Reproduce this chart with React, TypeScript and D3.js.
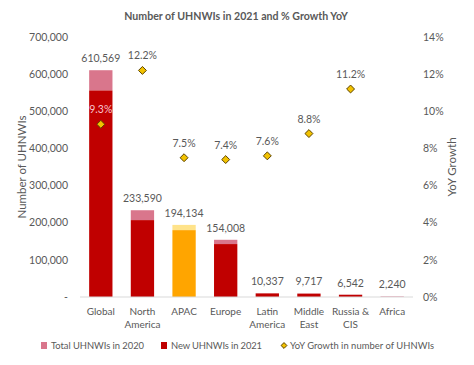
import React from "react";
import * as d3 from "d3";

const regions = ["Global", "North America", "APAC", "Europe", "Latin America", "Middle East", "Russia & CIS", "Africa"];
const regionLines = [["Global"], ["North", "America"], ["APAC"], ["Europe"], ["Latin", "America"], ["Middle", "East"], ["Russia &", "CIS"], ["Africa"]];
// lower (dark) part of each bar and the full 2021 total
const newUhnwis = [556000, 207000, 180000, 142500, 9600, 8900, 5900, 2240];
const totals = [610569, 233590, 194134, 154008, 10337, 9717, 6542, 2240];
const growth = [9.3, 12.2, 7.5, 7.4, 7.6, 8.8, 11.2, null];
const leftTicks = [0, 100000, 200000, 300000, 400000, 500000, 600000, 700000];
const rightTicks = [0, 2, 4, 6, 8, 10, 12, 14];

const bottomColors = ["#c00000", "#c00000", "#ffa500", "#c00000", "#c00000", "#c00000", "#c00000", "#e9a3b2"];
const topColors = ["#d9768c", "#d9768c", "#ffe38a", "#d9768c", "#d9768c", "#d9768c", "#d9768c", "#e9a3b2"];

export default function App() {
  const width = 474, height = 365;
  const margin = { top: 37, right: 61, bottom: 68, left: 80 };
  const x = d3.scaleBand().domain(regions).range([margin.left, width - margin.right]).paddingInner(0.44).paddingOuter(0.22);
  const y = d3.scaleLinear().domain([0, 700000]).range([height - margin.bottom, margin.top]);
  const y2 = d3.scaleLinear().domain([0, 14]).range([height - margin.bottom, margin.top]);
  const fmt = d3.format(",");
  const font = "Lato, 'Open Sans', sans-serif";
  const grey = "#595959";
  const cx = (r) => x(r) + x.bandwidth() / 2;
  const diamond = d3.symbol().type(d3.symbolDiamond2).size(40)();

  return (
    <svg width={width} height={height} style={{ position: "absolute", left: 0, top: 0 }} fontFamily={font}>
      <rect width={width} height={height} fill="white" />
      <text x={236} y={20} textAnchor="middle" fontSize={10.6} fontWeight="bold" fill={grey}>
        Number of UHNWIs in 2021 and % Growth YoY
      </text>

      {leftTicks.map((t) => (
        <text key={t} x={68} y={y(t)} dy="0.35em" textAnchor="end" fontSize={10.5} fill={grey}>
          {t === 0 ? "-" : fmt(t)}
        </text>
      ))}
      {rightTicks.map((t) => (
        <text key={t} x={423} y={y2(t)} dy="0.35em" textAnchor="start" fontSize={10.5} fill={grey}>
          {t + "%"}
        </text>
      ))}
      <text transform={`translate(26,${(margin.top + height - margin.bottom) / 2}) rotate(-90)`} textAnchor="middle" fontSize={11.5} fill={grey}>
        Number of UHNWIs
      </text>
      <text transform={`translate(456,${(margin.top + height - margin.bottom) / 2}) rotate(-90)`} textAnchor="middle" fontSize={11.5} fill={grey}>
        YoY Growth
      </text>

      {regions.map((r, i) => (
        <g key={r}>
          <rect x={x(r)} y={y(totals[i])} width={x.bandwidth()} height={y(newUhnwis[i]) - y(totals[i])} fill={topColors[i]} />
          <rect x={x(r)} y={y(newUhnwis[i])} width={x.bandwidth()} height={y(0) - y(newUhnwis[i])} fill={bottomColors[i]} />
          <text x={cx(r)} y={y(totals[i]) - 8} textAnchor="middle" fontSize={10.5} fill={grey}>
            {fmt(totals[i])}
          </text>
        </g>
      ))}
      <line x1={margin.left} x2={width - margin.right} y1={y(0)} y2={y(0)} stroke="#d9d9d9" strokeWidth={1} />

      {regions.map((r, i) =>
        growth[i] == null ? null : (
          <g key={"g" + r}>
            <path d={diamond} transform={`translate(${cx(r)},${y2(growth[i])})`} fill="#f2c200" stroke="#5c4300" strokeWidth={1} />
            <text x={cx(r)} y={y2(growth[i]) - 11} textAnchor="middle" fontSize={10.5} fill={i === 0 ? "#f7c6d0" : grey}>
              {growth[i].toFixed(1) + "%"}
            </text>
          </g>
        )
      )}

      {regions.map((r, i) => (
        <text key={"l" + r} x={cx(r)} y={315} textAnchor="middle" fontSize={10} fill={grey}>
          {regionLines[i].map((line, j) => (
            <tspan key={j} x={cx(r)} dy={j === 0 ? 0 : 12.5}>{line}</tspan>
          ))}
        </text>
      ))}

      <g fontSize={9.4} fill={grey}>
        <rect x={41} y={342} width={6} height={7} fill="#d9768c" />
        <text x={51} y={349} textLength={93}>Total UHNWIs in 2020</text>
        <rect x={161} y={342} width={6} height={7} fill="#c00000" />
        <text x={171} y={349} textLength={91}>New UHNWIs in 2021</text>
        <path d={d3.symbol().type(d3.symbolDiamond2).size(22)()} transform="translate(284,345.5)" fill="#f2c200" stroke="#5c4300" strokeWidth={1} />
        <text x={290} y={349} textLength={144}>YoY Growth in number of UHNWIs</text>
      </g>
    </svg>
  );
}
